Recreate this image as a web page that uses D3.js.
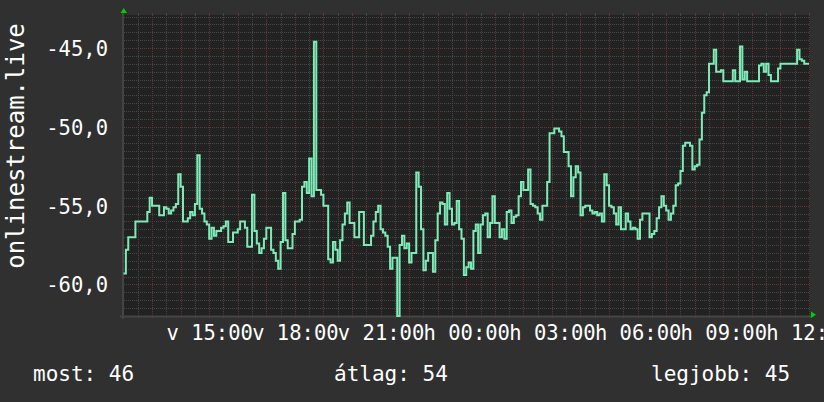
<!DOCTYPE html>
<html><head><meta charset="utf-8">
<script src="https://cdn.jsdelivr.net/npm/d3@7"></script>
<style>html,body{margin:0;padding:0;background:#303030;}svg{display:block;}</style>
</head><body>
<svg id="c" width="824" height="402"></svg>
<script>
// ---- data ----
const seriesName = "onlinestream.live";
const stepMinutes = 5;          // sample interval
const startHour = 0;            // hours after Sunday 12:00
const values = [
-59.3,-57.8,-57,-57,-57,-56,-56,-56,-56,-56,
-55.4,-54.5,-55,-55,-55,-55.6,-55.6,-55.1,-55.2,-55.5,
-55.3,-55.1,-54.9,-53,-53.8,-56,-56,-55.8,-55.4,-55.6,
-54.9,-51.8,-55.2,-55.5,-56,-56.2,-57.1,-56.4,-56.9,-56.6,
-56.6,-56.4,-56.3,-56,-57.3,-57.3,-56.7,-56.7,-56.5,-56,
-56,-56.4,-57.6,-57.6,-54.3,-56.6,-57.4,-58,-57.7,-57.1,
-56.4,-56.4,-57.8,-58,-58.5,-59,-57.3,-54.2,-57.2,-57.7,
-57.7,-56.8,-56,-56,-55.9,-53.8,-53.5,-54.2,-52,-54.4,
-44.6,-54,-54,-54.3,-55,-55,-58.4,-58.6,-57.3,-57.8,
-58.5,-57.2,-56.2,-55.5,-54.8,-56.1,-56.1,-57,-57,-55.4,
-55.4,-57.5,-57.5,-57.5,-56.9,-56,-55.4,-55,-56.5,-56.7,
-56.9,-57.6,-59,-58.3,-58.3,-62,-57.5,-56.9,-57.7,-57.4,
-58.6,-58,-58,-52.9,-53.8,-56.5,-59.1,-58.5,-58,-58,
-59.2,-57.2,-55.5,-54.8,-54.9,-56.2,-54.2,-55.2,-56.2,-56.1,
-54.7,-56.5,-57.1,-59.4,-58.9,-58.6,-59,-56.6,-56.2,-58,
-56.2,-55.6,-55.5,-57,-56.1,-54.4,-56.1,-56.1,-57,-56.5,
-57.1,-55.4,-55.3,-56.1,-55.7,-55.6,-54.4,-53.5,-54,-54,
-52.7,-54.9,-55,-55.1,-55.5,-55.9,-55,-55,-53.5,-50.4,
-50.4,-50.1,-50.1,-50.3,-50.6,-51.6,-51.6,-52.5,-54.4,-53.2,
-52.5,-52.9,-55.6,-55.1,-55,-55,-55.3,-55.5,-55.4,-55.6,
-55.5,-56,-53,-53.7,-55,-55.1,-55.5,-56.2,-55.1,-56.5,
-56.5,-55.5,-56,-56.5,-56.4,-56.5,-57.1,-55.9,-55.5,-55.5,
-55.5,-57,-56.8,-56.6,-55.8,-55.1,-54.4,-55,-55.3,-55.9,
-55.5,-55,-53.7,-53.6,-52.8,-51.2,-51,-51,-51.2,-52.7,
-52.5,-52.4,-50.8,-49.1,-48,-47.8,-46,-46,-45.1,-46.5,
-46.5,-46.4,-47.1,-47.1,-47.1,-47.1,-46.4,-47.1,-47.1,-44.9,
-47,-46.5,-47.1,-47.1,-47.1,-47.1,-47.1,-46.1,-46,-46.5,
-46,-46.7,-47.1,-47.1,-47.1,-46.3,-46,-46,-46,-46,
-46,-46,-46,-45.1,-45.7,-45.8,-46,-46
];
const yTickValues = [-45, -50, -55, -60];
const xTickHours = [3, 6, 9, 12, 15, 18, 21, 24];
const xTickLabels = ["v 15:00", "v 18:00", "v 21:00", "h 00:00", "h 03:00", "h 06:00", "h 09:00", "h 12:00"];
const legendLabels = ["most: 46", "átlag: 54", "legjobb: 45"];

// ---- layout ----
const svg = d3.select("#c");
const W = 824, H = 402;
const L = 123.5, R = 809, T = 15, B = 316;
const x = d3.scaleLinear().domain([0, 24]).range([L, R]);
const y = d3.scaleLinear().domain([-62, -42.9]).range([B, T]);
const FONT = "'DejaVu Sans Mono', monospace";
const MINOR = "#474747", MAJOR = "#673434";

svg.append("rect").attr("width", W).attr("height", H).attr("fill", "#303030");
svg.append("rect").attr("x", 122).attr("y", T).attr("width", R - 122 + 1).attr("height", B - T).attr("fill", "#222222");

// grid
const g = svg.append("g").attr("shape-rendering", "crispEdges");
const minorY = d3.range(-62, -42.9, 0.5).filter(v => Math.abs(v % 5) > 1e-6);
g.selectAll(".hy").data(minorY).join("line")
  .attr("x1", L).attr("x2", R).attr("y1", d => Math.round(y(d)) + 0.5).attr("y2", d => Math.round(y(d)) + 0.5)
  .attr("stroke", MINOR).attr("stroke-dasharray", "1,1");
const minorX = d3.range(0.5, 24, 1);
g.selectAll(".vx").data(minorX).join("line")
  .attr("y1", T).attr("y2", B).attr("x1", d => Math.round(x(d)) + 0.5).attr("x2", d => Math.round(x(d)) + 0.5)
  .attr("stroke", MINOR).attr("stroke-dasharray", "1,1");
const majorX = d3.range(1, 25, 1);
g.selectAll(".vX").data(majorX).join("line")
  .attr("y1", T).attr("y2", B).attr("x1", d => Math.round(x(d)) + 0.5).attr("x2", d => Math.round(x(d)) + 0.5)
  .attr("stroke", MAJOR).attr("stroke-dasharray", "1,1");
const majorY = d3.range(-60, -42.9, 5);
g.selectAll(".hY").data(majorY).join("line")
  .attr("x1", L).attr("x2", R).attr("y1", d => Math.round(y(d)) + 0.5).attr("y2", d => Math.round(y(d)) + 0.5)
  .attr("stroke", MAJOR).attr("stroke-dasharray", "1,1");
// small ticks at top and bottom
g.selectAll(".tt").data(minorX.concat(majorX)).join("line")
  .attr("x1", d => Math.round(x(d)) + 0.5).attr("x2", d => Math.round(x(d)) + 0.5)
  .attr("y1", T - 2).attr("y2", T + 1)
  .attr("stroke", d => Number.isInteger(d) ? MAJOR : MINOR);
g.selectAll(".tb").data(minorX.concat(majorX)).join("line")
  .attr("x1", d => Math.round(x(d)) + 0.5).attr("x2", d => Math.round(x(d)) + 0.5)
  .attr("y1", B - 1).attr("y2", B + 2)
  .attr("stroke", d => Number.isInteger(d) ? MAJOR : MINOR);

// axis lines
svg.append("line").attr("x1", 120).attr("x2", 811).attr("y1", B + 0.5).attr("y2", B + 0.5).attr("stroke", "#444").attr("stroke-width", 2);
svg.append("line").attr("x1", 123).attr("x2", 123).attr("y1", 12).attr("y2", B + 3).attr("stroke", "#444").attr("stroke-width", 2);
// arrows
svg.append("path").attr("d", d3.line()([[120.5, 13], [127, 13], [123.75, 8]])).attr("fill", "#00d000");
svg.append("path").attr("d", d3.line()([[811, 311.5], [811, 318], [816, 314.75]])).attr("fill", "#00d000");

// data line
const pts = values.map((v, i) => [startHour + i * stepMinutes / 60, v]);
pts.push([startHour + values.length * stepMinutes / 60, values[values.length - 1]]);
svg.append("path").datum(pts)
  .attr("d", d3.line().x(d => x(d[0])).y(d => y(d[1])).curve(d3.curveStepAfter))
  .attr("fill", "none").attr("stroke", "#7eeab8").attr("stroke-width", 2).attr("stroke-linejoin", "miter");

// y axis labels
const yAxis = d3.axisLeft(y).tickValues(yTickValues).tickSize(0).tickPadding(0)
  .tickFormat(d => d.toFixed(1).replace(".", ","));
const ya = svg.append("g").attr("transform", "translate(108,0)").call(yAxis);
ya.select(".domain").remove();
ya.selectAll("text").attr("fill", "#ffffff").attr("font-family", FONT).attr("font-size", 20.5).attr("dy", "0.36em").attr("x", 0);

// x axis labels
const xAxis = d3.axisBottom(x).tickValues(xTickHours).tickSize(0).tickPadding(0)
  .tickFormat((d, i) => xTickLabels[i]);
const xa = svg.append("g").attr("transform", "translate(0,340)").call(xAxis);
xa.select(".domain").remove();
xa.selectAll("text").attr("fill", "#ffffff").attr("font-family", FONT).attr("font-size", 20.5).attr("dy", 0).attr("y", 0);

// title
svg.append("text").attr("transform", "translate(24,146) rotate(-90)")
  .attr("text-anchor", "middle").attr("font-family", FONT).attr("font-size", 24).attr("fill", "#ffffff")
  .text(seriesName);

// legend
const legendX = [33, 334, 651];
svg.selectAll(".lg").data(legendLabels).join("text")
  .attr("x", (d, i) => legendX[i]).attr("y", 381)
  .attr("font-family", FONT).attr("font-size", 21).attr("fill", "#ffffff")
  .text(d => d);
</script>
</body></html>
